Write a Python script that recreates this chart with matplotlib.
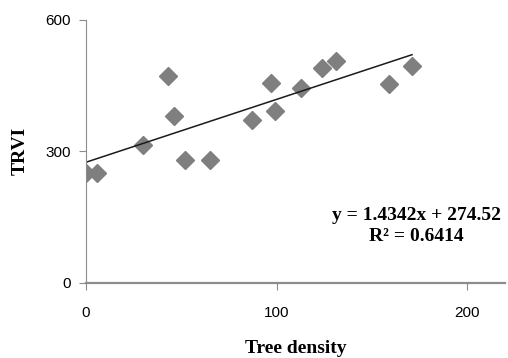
import numpy as np
import matplotlib
matplotlib.use('Agg')
import matplotlib.pyplot as plt

# data
tree_density = [0, 6, 30, 43, 46, 52, 65, 87, 97, 99, 113, 124, 131, 159, 171]
trvi = [249, 249, 313, 472, 381, 279, 279, 372, 455, 392, 444, 489, 506, 453, 493]
slope = 1.4342
intercept = 274.52
r2 = 0.6414

fig = plt.figure(figsize=(5.08, 3.58), dpi=100)
ax = fig.add_axes([0.169, 0.2103, 0.826, 0.7352])

ax.plot(tree_density, trvi, ls='none', marker='D', ms=9, color='#7f7f7f', mec='#7f7f7f')
xfit = np.array([0, max(tree_density)])
ax.plot(xfit, slope*xfit + intercept, color='#1a1a1a', lw=1.1)

ax.set_xlim(0, 220)
ax.set_ylim(0, 600)
ax.set_xticks([0, 100, 200])
ax.set_yticks([0, 300, 600])
for s in ['top', 'right']:
    ax.spines[s].set_visible(False)
ax.spines['left'].set_color('#8c8c8c')
ax.spines['bottom'].set_color('#8c8c8c')
ax.spines['bottom'].set_linewidth(1.6)
ax.tick_params(colors='#8c8c8c', labelcolor='black', length=5, labelsize=11)
ax.tick_params(axis='x', pad=12)
ax.tick_params(axis='y', pad=6)
for lab in ax.get_xticklabels() + ax.get_yticklabels():
    lab.set_family('Liberation Sans')

ax.set_xlabel('Tree density', family='Liberation Serif', fontweight='bold', fontsize=14, labelpad=14)
ax.set_ylabel('TRVI', family='Liberation Serif', fontweight='bold', fontsize=14, labelpad=12)
ax.text(0.788, 0.215, 'y = %.4fx + %.2f\nR² = %.4f' % (slope, intercept, r2), transform=ax.transAxes,
        ha='center', va='center', family='Liberation Serif', fontweight='bold',
        fontsize=14, linespacing=1.25)

fig.savefig('out.png', dpi=100)
